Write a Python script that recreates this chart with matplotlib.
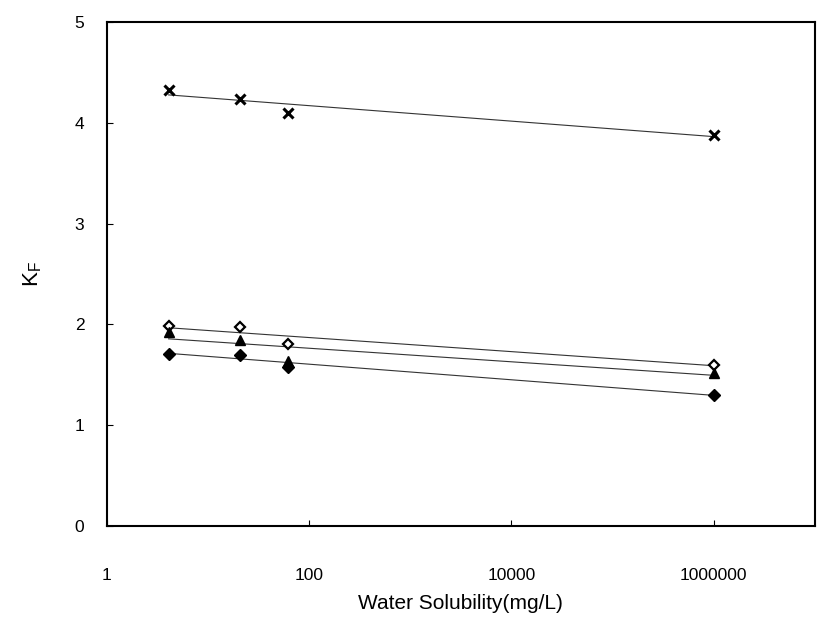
"""
Freundlich K_F against water solubility for four compounds,
with a least-squares line (K_F vs log10 S) through each series.
"""
import numpy as np
import matplotlib
matplotlib.use("Agg")
import matplotlib.pyplot as plt
from matplotlib.ticker import FixedLocator, NullLocator

plt.rcParams['font.family'] = ['Liberation Sans', 'DejaVu Sans']

# =============================================================================
# Data
# =============================================================================
solubility = [4.1, 21, 62, 1.0e6]          # mg/L

kf_cross   = [4.33, 4.24, 4.10, 3.88]
kf_open    = [1.98, 1.97, 1.81, 1.60]
kf_tri     = [1.93, 1.85, 1.64, 1.52]
kf_filled  = [1.71, 1.70, 1.58, 1.30]

xticks      = [1, 100, 10000, 1000000]
xtick_names = ['1', '100', '10000', '1000000']
yticks      = [0, 1, 2, 3, 4, 5]

# =============================================================================
# Plot
# =============================================================================
fig = plt.figure(figsize=(8.2, 6.3), dpi=100)
ax = fig.add_axes([0.130, 0.165, 0.864, 0.800])

styles = [
    (kf_cross,  dict(marker='x', ms=7,   mew=2.2, mfc='k',  mec='k')),
    (kf_open,   dict(marker='D', ms=5.5, mew=1.6, mfc='w',  mec='k')),
    (kf_tri,    dict(marker='^', ms=7,   mew=1.0, mfc='k',  mec='k')),
    (kf_filled, dict(marker='D', ms=6,   mew=1.0, mfc='k',  mec='k')),
]

xs = np.array(solubility)
for kf, st in styles:
    kf = np.array(kf)
    # linear fit of K_F against log10(solubility)
    p = np.polyfit(np.log10(xs), kf, 1)
    xl = np.array([xs.min(), xs.max()])
    ax.plot(xl, np.polyval(p, np.log10(xl)), '-', color='#333333', lw=0.8,
            zorder=2)
    ax.plot(xs, kf, linestyle='none', zorder=3, **st)

ax.set_xscale('log')
ax.set_xlim(1, 1e7)
ax.set_ylim(0, 5)

ax.xaxis.set_major_locator(FixedLocator(xticks))
ax.xaxis.set_minor_locator(NullLocator())
ax.set_xticklabels(xtick_names)
ax.set_yticks(yticks)

ax.tick_params(axis='both', direction='in', length=4, width=0.8,
               labelsize=12.5)
ax.tick_params(axis='x', pad=30)
ax.tick_params(axis='y', pad=16)

for sp in ax.spines.values():
    sp.set_linewidth(1.5)

ax.set_xlabel('Water Solubility(mg/L)', fontsize=15, labelpad=8)
ax.set_ylabel(r'K$_\mathregular{F}$', fontsize=16, labelpad=22, rotation=90)

fig.savefig('out.png', dpi=100, facecolor='white')
